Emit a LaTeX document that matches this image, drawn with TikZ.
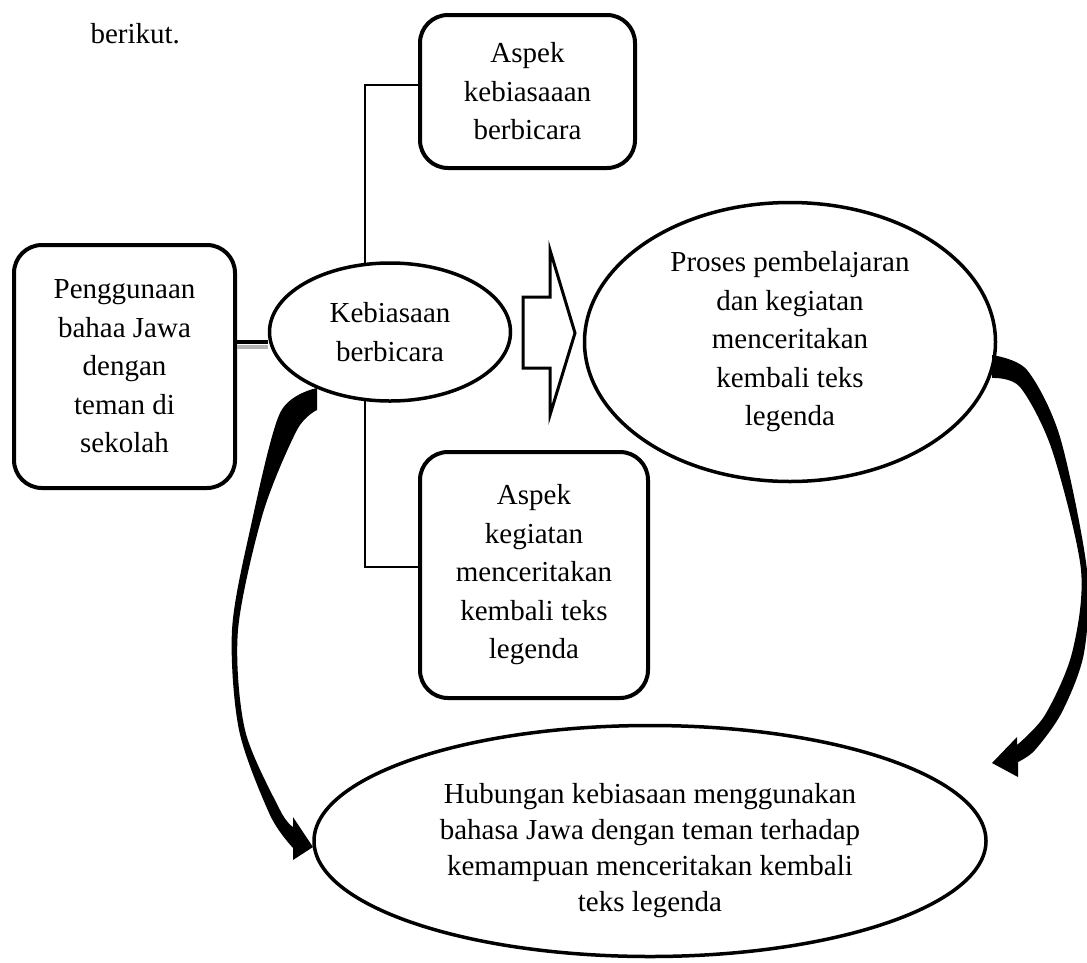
\documentclass[tikz,border=0pt]{standalone}
\usepackage{fontspec}
\setmainfont{Liberation Serif}
\usetikzlibrary{shapes.geometric}
\begin{document}
\begin{tikzpicture}[x=1pt,y=-1pt,
  txt/.style={font=\fontsize{29}{38.5}\selectfont, align=center},
  rbox/.style={txt, draw, line width=4pt, rounded corners=28pt, fill=white, inner sep=0pt},
  ell/.style={txt, draw, ellipse, line width=3.5pt, fill=white, inner sep=0pt},
  thinline/.style={line width=1.3pt},
  bandfill/.style={fill=black}]
\useasboundingbox (0,0) rectangle (1087,962);

\node[txt, anchor=base west] (intro) at (87,43) {berikut.};

\node[rbox, minimum width=215pt, minimum height=153pt] (tbox) at (527.5,91.5) {Aspek\\kebiasaaan\\berbicara};
\node[rbox, minimum width=228pt, minimum height=246pt] (bbox) at (534,575) {Aspek\\kegiatan\\menceritakan\\kembali teks\\legenda};
\draw[thinline] ([yshift=6.5pt]tbox.west) -| (365,400) |- ([yshift=8pt]bbox.west);

\node[rbox, minimum width=221pt, minimum height=243pt] (lbox) at (124.5,366.5) {Penggunaan\\bahaa Jawa\\dengan\\teman di\\sekolah};

\node[ell, minimum width=241pt, minimum height=138pt] (kb) at (390,332) {Kebiasaan\\berbicara};

\coordinate (c1) at (lbox.east |- 0,342);
\coordinate (c2) at (kb.west |- 0,342);
\draw[line width=4pt, gray!60] ([yshift=-5pt]c1) -- ([yshift=-5pt]c2);
\draw[line width=4pt] (c1) -- (c2);

% hollow block arrow
\draw[line width=3pt, line join=miter, fill=white] (523,297) -- (550,297) -- (550,250) -- (575,333) -- (550,415) -- (550,368) -- (523,368) -- cycle;

\node[ell, minimum width=411pt, minimum height=279pt] (pr) at (790,342) {Proses pembelajaran\\dan kegiatan\\menceritakan\\kembali teks\\legenda};

\node[ell, minimum width=672pt, minimum height=231pt] (hb) at (650,841) {};
\node[txt, font=\fontsize{29}{36}\selectfont] (hbt) at (650,851) {Hubungan kebiasaan menggunakan\\bahasa Jawa dengan teman terhadap\\kemampuan menceritakan kembali\\teks legenda};

% left curved arrow
\fill[bandfill] (317,388) -- (317,410)
  -- plot[smooth] coordinates {(317,410) (297,430) (263,513) (238,630) (245,730) (280,810) (293,827)}
  -- (293,817) -- (313,847) -- (293,860) -- (293,848)
  -- plot[smooth] coordinates {(293,848) (270,815) (239,730) (232,630) (250,530) (280,413) (317,388)} -- cycle;

% right curved arrow
\fill[bandfill] (992,355)
  -- plot[smooth] coordinates {(992,355) (1027,370) (1060,437) (1087,570) (1084,653) (1062,712) (1035,750) (1018,762)}
  -- (1018,777) -- (992,763) -- (1017,737) -- (1017,745)
  -- plot[smooth] coordinates {(1017,745) (1045,715) (1072,653) (1081,570) (1052,450) (1020,387) (992,378)} -- cycle;
\end{tikzpicture}
\end{document}
